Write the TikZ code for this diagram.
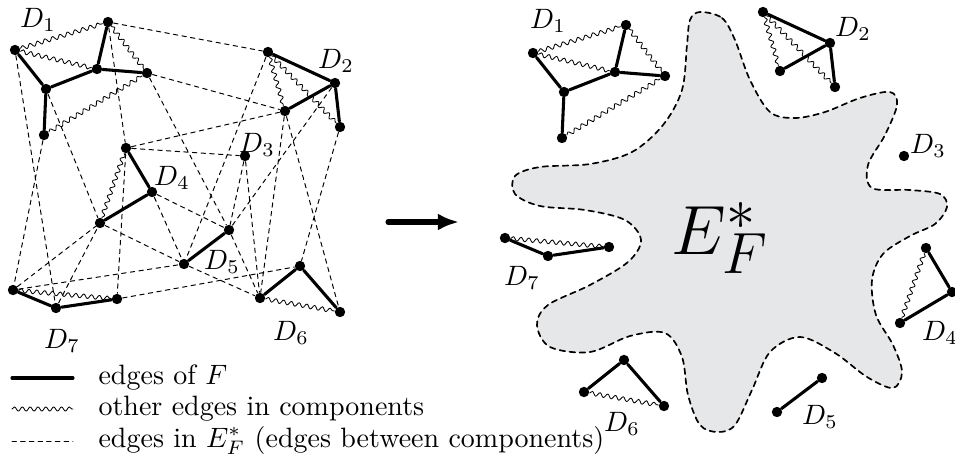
\documentclass[tikz,border=0pt]{standalone}
\usetikzlibrary{decorations.pathmorphing,arrows.meta}
\definecolor{blobgray}{RGB}{230,231,232}
\tikzset{
  vtx/.style={circle,fill,inner sep=0pt,minimum size=3.7pt},
  fedge/.style={line width=1.1pt},
  oedge/.style={decorate,decoration={snake,amplitude=0.75pt,segment length=2.8pt},line width=0.3pt},
  cedge/.style={dash pattern=on 1.6pt off 1.5pt,line width=0.35pt},
  blob/.style={fill=blobgray,dash pattern=on 2pt off 1.6pt,line width=0.6pt},
  legtext/.style={anchor=base west,inner sep=0pt},
}
% the seven components, #1 = prefix of the node names
\newcommand\DOne[1]{%
  \node[vtx] (#1a) at (15,50) {};
  \node[vtx] (#1b) at (46,89) {};
  \node[vtx] (#1c) at (44,135) {};
  \node[vtx] (#1d) at (97,69) {};
  \node[vtx] (#1e) at (108,22) {};
  \node[vtx] (#1f) at (147,73) {};
  \draw[fedge] (#1a)--(#1b)--(#1c) (#1b)--(#1d)--(#1e) (#1d)--(#1f);
  \draw (#1a) edge[oedge] (#1e) (#1a) edge[oedge] (#1d)
        (#1e) edge[oedge] (#1f) (#1c) edge[oedge] (#1f);}
\newcommand\DTwo[1]{%
  \node[vtx] (#1g) at (268,52) {};
  \node[vtx] (#1h) at (335,83) {};
  \node[vtx] (#1i) at (285,111) {};
  \node[vtx] (#1j) at (340,127) {};
  \draw[fedge] (#1g)--(#1h)--(#1i) (#1h)--(#1j);
  \draw (#1g) edge[oedge] (#1i) (#1g) edge[oedge] (#1j);}
\newcommand\DThree[1]{%
  \node[vtx] (#1k) at (245,156) {};}
\newcommand\DFour[1]{%
  \node[vtx] (#1l) at (126,148) {};
  \node[vtx] (#1m) at (152,192) {};
  \node[vtx] (#1n) at (100,223) {};
  \draw[fedge] (#1l)--(#1m)--(#1n);
  \draw (#1l) edge[oedge] (#1n);}
\newcommand\DFive[1]{%
  \node[vtx] (#1o) at (184,264) {};
  \node[vtx] (#1p) at (229,230) {};
  \draw[fedge] (#1o)--(#1p);}
\newcommand\DSix[1]{%
  \node[vtx] (#1q) at (260,298) {};
  \node[vtx] (#1r) at (300,266) {};
  \node[vtx] (#1s) at (340,312) {};
  \draw[fedge] (#1q)--(#1r)--(#1s);
  \draw (#1q) edge[oedge] (#1s);}
\newcommand\DSeven[1]{%
  \node[vtx] (#1t) at (13,290) {};
  \node[vtx] (#1u) at (56,308) {};
  \node[vtx] (#1v) at (117,299) {};
  \draw[fedge] (#1t)--(#1u)--(#1v);
  \draw (#1t) edge[oedge] (#1v);}
\begin{document}
\begin{tikzpicture}[x=0.357pt,y=-0.357pt,line join=round,line cap=round]
\useasboundingbox (0,0) rectangle (955,475);
% left: the graph
\DOne{L} \DTwo{L} \DThree{L} \DFour{L} \DFive{L} \DSix{L} \DSeven{L}
\draw[cedge] (Le)--(Lg) (Le)--(Ll) (Lf)--(Li) (Lf)--(Lp) (La)--(Lu) (Lb)--(Ln)
  (Lc)--(Lt) (Lg)--(Lo) (Lh)--(Lp) (Li)--(Lq) (Li)--(Ls) (Lj)--(Lr)
  (Lk)--(Lp) (Lk)--(Lq) (Ll)--(Li) (Ll)--(Lk) (Ll)--(Lv) (Lm)--(Lp)
  (Lm)--(Lo) (Ln)--(Lo) (Lo)--(Lq) (Lp)--(Lq) (Lt)--(Ln) (Lt)--(Lo)
  (Lu)--(Ln) (Lv)--(Lr);
\node (lD1) at (38,20) {$D_1$};
\node (lD2) at (336,61) {$D_2$};
\node (lD3) at (257,145) {$D_3$};
\node (lD4) at (172,178) {$D_4$};
\node (lD5) at (222,262) {$D_5$};
\node (lD6) at (291,333) {$D_6$};
\node (lD7) at (62,341) {$D_7$};
% arrow
\coordinate (arrA) at (388,222);
\coordinate (arrB) at (459,222);
\draw[line width=1.8pt,-{Latex[length=7.5pt,width=6pt]}] (arrA)--(arrB);
% right: E_F^* shrunk to a blob
\draw[blob] plot[smooth cycle,tension=0.55] coordinates {
  (700,12) (722,18) (735,40) (750,80) (770,112) (795,118) (825,112) (860,98)
  (890,92) (897,105) (885,135) (868,165) (872,188) (910,190) (940,194) (947,207)
  (935,224) (910,236) (883,254) (872,280) (876,315) (893,345) (902,372) (893,388)
  (867,377) (835,353) (800,337) (770,352) (752,390) (735,425) (718,432) (700,425)
  (688,395) (682,357) (665,333) (630,336) (590,352) (550,347) (537,325) (548,305)
  (590,285) (628,262) (641,240) (625,220) (585,210) (540,206) (515,194) (515,176)
  (540,167) (590,164) (632,152) (663,125) (682,90) (687,45) (690,20)};
\node (EF) at (720,238) {\Huge$E_F^*$};
\begin{scope}[shift={(518,3)}] \DOne{R} \end{scope}
\begin{scope}[shift={(495,-40)}] \DTwo{R} \end{scope}
\begin{scope}[shift={(659,0)}] \DThree{R} \end{scope}
\begin{scope}[shift={(800,100)}] \DFour{R} \end{scope}
\begin{scope}[shift={(593,148)}] \DFive{R} \end{scope}
\begin{scope}[shift={(324,94)}] \DSix{R} \end{scope}
\begin{scope}[shift={(492,-52)}] \DSeven{R} \end{scope}
\node (rD1) at (548,21) {$D_1$};
\node (rD2) at (853,29) {$D_2$};
\node (rD3) at (928,146) {$D_3$};
\node (rD4) at (940,333) {$D_4$};
\node (rD5) at (820,417) {$D_5$};
\node (rD6) at (622,424) {$D_6$};
\node (rD7) at (522,278) {$D_7$};
% legend
\coordinate (kA1) at (12,378); \coordinate (kB1) at (73,378);
\coordinate (kA2) at (12,409); \coordinate (kB2) at (73,409);
\coordinate (kA3) at (12,441); \coordinate (kB3) at (73,441);
\draw[fedge] (kA1)--(kB1);
\draw (kA2) edge[oedge] (kB2);
\draw[cedge] (kA3)--(kB3);
\node[legtext] (key1) at (98,384) {edges of $F$};
\node[legtext] (key2) at (98,415) {other edges in components};
\node[legtext] (key3) at (98,447) {edges in $E_F^*$ (edges between components)};
\end{tikzpicture}
\end{document}
